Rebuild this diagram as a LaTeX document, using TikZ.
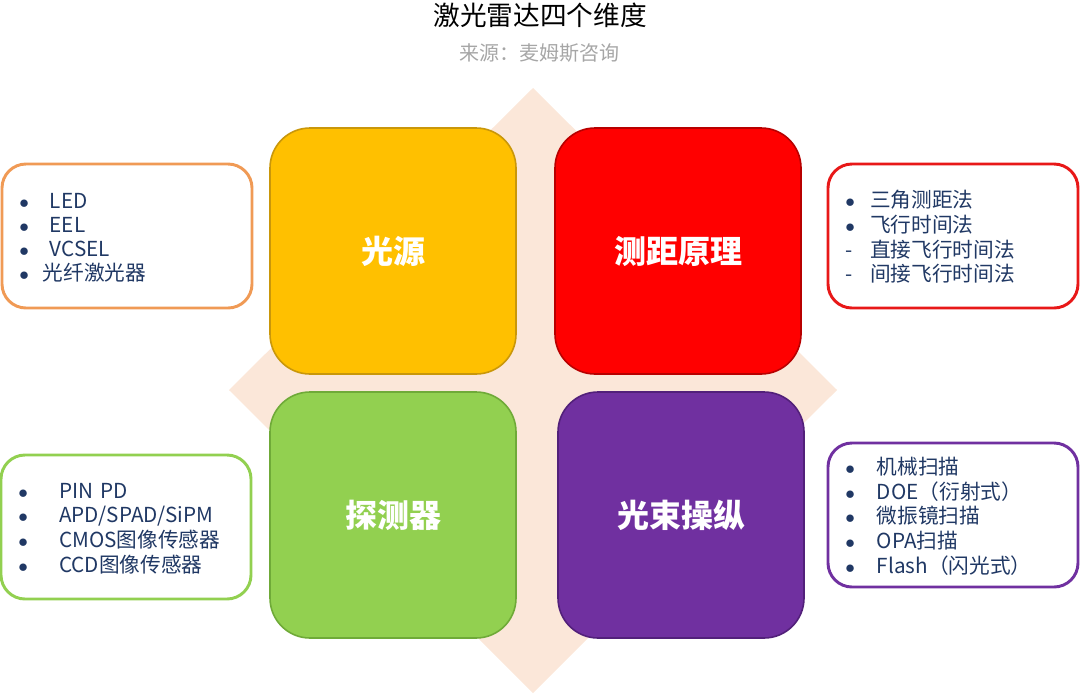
\documentclass[tikz,border=0pt]{standalone}
\usepackage{fontspec}
\setmainfont{Noto Sans CJK SC}
\usetikzlibrary{positioning}

\definecolor{diamondfill}{HTML}{FBE7D9}
\definecolor{srcyellow}{HTML}{FFC000}
\definecolor{srcyellowdk}{HTML}{C9970A}
\definecolor{rangered}{HTML}{FF0000}
\definecolor{rangereddk}{HTML}{B80000}
\definecolor{detgreen}{HTML}{92D050}
\definecolor{detgreendk}{HTML}{6FAA38}
\definecolor{beampurple}{HTML}{7030A0}
\definecolor{beampurpledk}{HTML}{52207A}
\definecolor{srcorange}{HTML}{F09A55}
\definecolor{rangeline}{HTML}{E81818}
\definecolor{listblue}{HTML}{203864}
\definecolor{subgray}{HTML}{A6A6A6}

\newcommand{\itemdot}{$\bullet$}
\newcommand{\listdown}[1]{\raisebox{-2.8pt}[\height][\depth]{#1}}

\tikzset{
  mainbox/.style={rounded corners=30pt, minimum width=184.5pt, minimum height=184.5pt,
    line width=1.2pt, text=white, font=\fontsize{24}{28}\selectfont\bfseries},
  sidebox/.style={rounded corners=18pt, line width=2.2pt, fill=white,
    minimum width=187.5pt, minimum height=108pt, inner xsep=13pt,
    text width=161.5pt, align=left, text=listblue, font=\fontsize{15.5}{18}\selectfont}
}

\begin{document}
\begin{tikzpicture}[x=0.75pt, y=-0.75pt]
  \useasboundingbox (0,0) rectangle (1080,696);

  % titles
  \node (title) at (540,15) {\fontsize{20}{24}\selectfont 激光雷达四个维度};
  \node (source) [text=subgray] at (539,53) {\fontsize{15}{18}\selectfont 来源：麦姆斯咨询};

  % background diamond
  \fill [diamondfill] (533,88) -- (837,390) -- (533,693) -- (229,390) -- cycle;

  % four dimensions
  \node (src) [mainbox, fill=srcyellow, draw=srcyellowdk] at (393,251) {光源};
  \node (range) [mainbox, fill=rangered, draw=rangereddk] at (678,251) {测距原理};
  \node (det) [mainbox, fill=detgreen, draw=detgreendk] at (393,515) {探测器};
  \node (beam) [mainbox, fill=beampurple, draw=beampurpledk] at (681,515) {光束操纵};

  % lists
  \node (srclist) [sidebox, draw=srcorange] at (127,236) {\listdown{%
    \begin{tabular}{@{}l@{\hspace{10.5pt}}l@{}}
      \itemdot & \,\,LED\\
      \itemdot & \,\,EEL\\
      \itemdot & \,\,VCSEL\\
      \itemdot & 光纤激光器
    \end{tabular}}};
  \node (rangelist) [sidebox, draw=rangeline] at (953,236) {\listdown{%
    \begin{tabular}{@{}l@{\hspace{11.5pt}}l@{}}
      \itemdot & 三角测距法\\
      \itemdot & 飞行时间法\\
      \makebox[6pt][c]{-} & 直接飞行时间法\\
      \makebox[6pt][c]{-} & 间接飞行时间法
    \end{tabular}}};
  \node (detlist) [sidebox, draw=detgreen] at (126,527) {\listdown{%
    \begin{tabular}{@{}l@{\hspace{23.5pt}}l@{}}
      \itemdot & PIN PD\\
      \itemdot & APD/SPAD/SiPM\\
      \itemdot & CMOS图像传感器\\
      \itemdot & CCD图像传感器
    \end{tabular}}};
  \node (beamlist) [sidebox, draw=beampurple] at (953,515) {\listdown{%
    \begin{tabular}{@{}l@{\hspace{16.5pt}}l@{}}
      \itemdot & 机械扫描\\
      \itemdot & DOE（衍射式）\\
      \itemdot & 微振镜扫描\\
      \itemdot & OPA扫描\\
      \itemdot & Flash（闪光式）
    \end{tabular}}};
\end{tikzpicture}
\end{document}
